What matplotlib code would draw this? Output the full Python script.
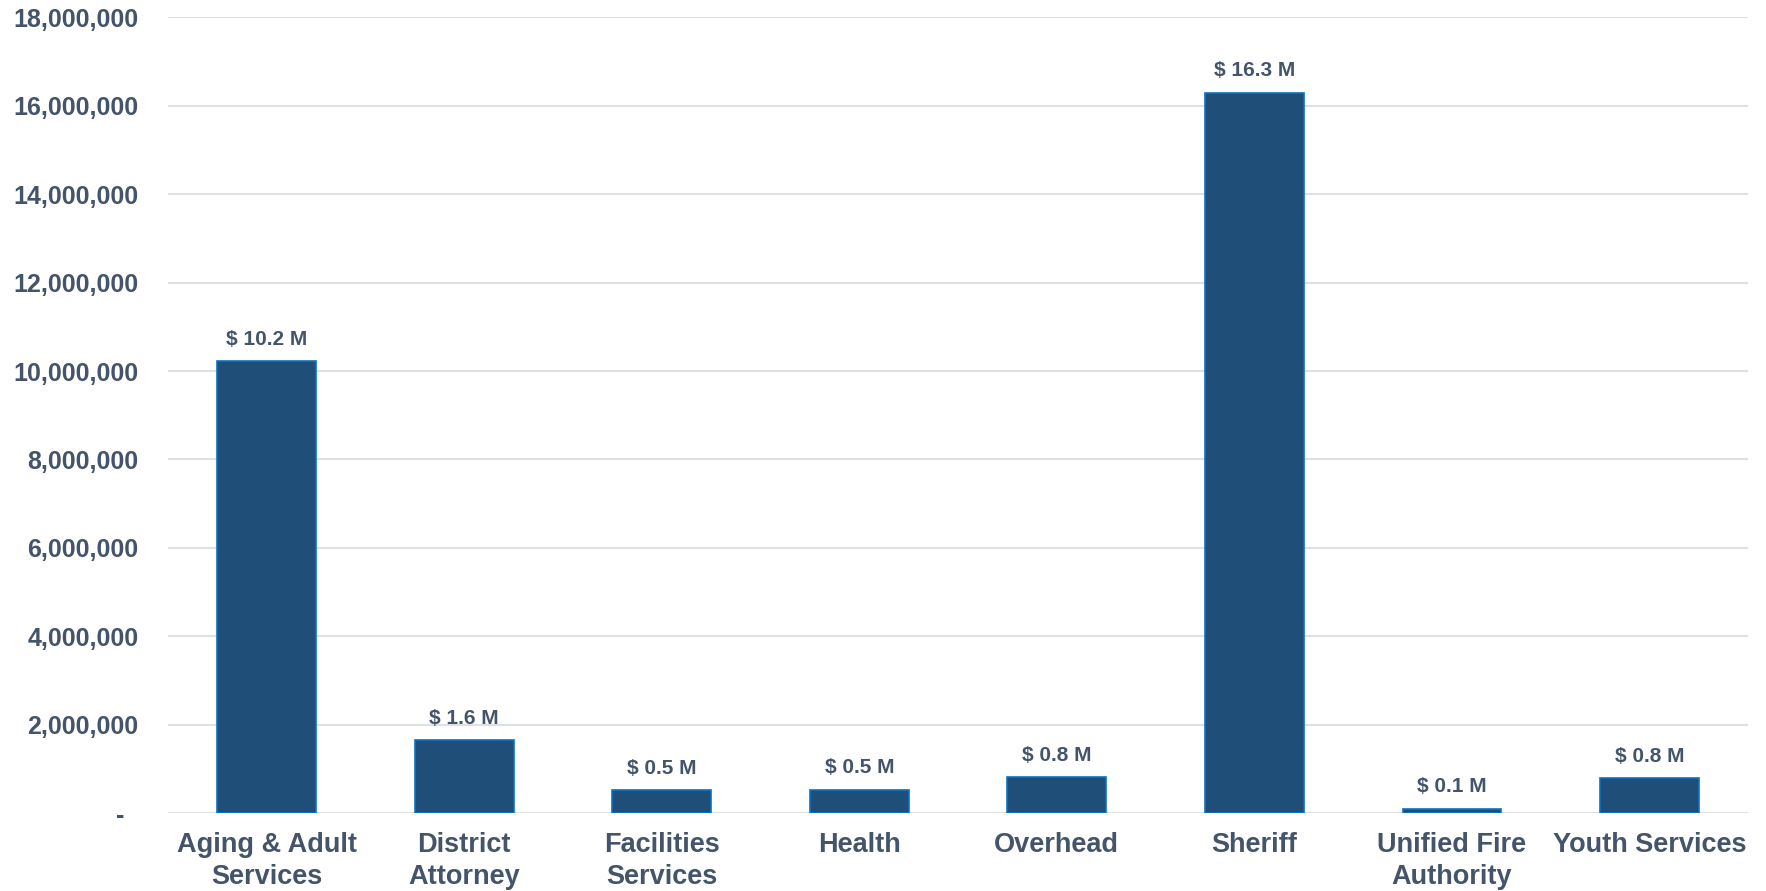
import matplotlib.pyplot as plt
import matplotlib.ticker as ticker

categories = ["Aging & Adult\nServices", "District\nAttorney", "Facilities\nServices",
              "Health", "Overhead", "Sheriff", "Unified Fire\nAuthority", "Youth Services"]
values = [10220000, 1650000, 510000, 530000, 810000, 16300000, 100000, 790000]
labels = ["$ 10.2 M", "$ 1.6 M", "$ 0.5 M", "$ 0.5 M", "$ 0.8 M", "$ 16.3 M", "$ 0.1 M", "$ 0.8 M"]

text_color = "#44546a"
plt.rcParams["font.family"] = ["Liberation Sans", "DejaVu Sans"]
plt.rcParams["font.weight"] = "bold"

fig = plt.figure(figsize=(17.66, 8.91), dpi=100)
ax = fig.add_axes([0.095, 0.0875, 0.895, 0.893])

x = range(len(categories))
ax.bar(x, values, width=0.5, color="#1f4e79", edgecolor="#0b72c4", linewidth=1.2, zorder=3)

for i, (v, lab) in enumerate(zip(values, labels)):
    ax.annotate(lab, (i, v), xytext=(0, 9), textcoords="offset points",
                ha="center", va="bottom", fontsize=15, fontweight="bold", color=text_color)

ax.set_xlim(-0.5, len(categories) - 0.5)
ax.set_ylim(0, 18000000)
ax.yaxis.set_major_locator(ticker.MultipleLocator(2000000))

def fmt(v, pos):
    if v == 0:
        return "-  "
    return "{:,.0f}".format(v)

ax.yaxis.set_major_formatter(ticker.FuncFormatter(fmt))
ax.set_xticks(list(x))
ax.set_xticklabels(categories, fontsize=19.5, fontweight="bold", color=text_color,
                   linespacing=1.3)
ax.tick_params(axis="y", length=0, pad=21, labelsize=18, labelcolor=text_color)
ax.tick_params(axis="x", length=0, pad=14)

ax.grid(axis="y", color="#dde1e6", linewidth=1.5, zorder=0)
ax.set_axisbelow(True)
for s in ax.spines.values():
    s.set_visible(False)

plt.savefig("out.png", dpi=100)
